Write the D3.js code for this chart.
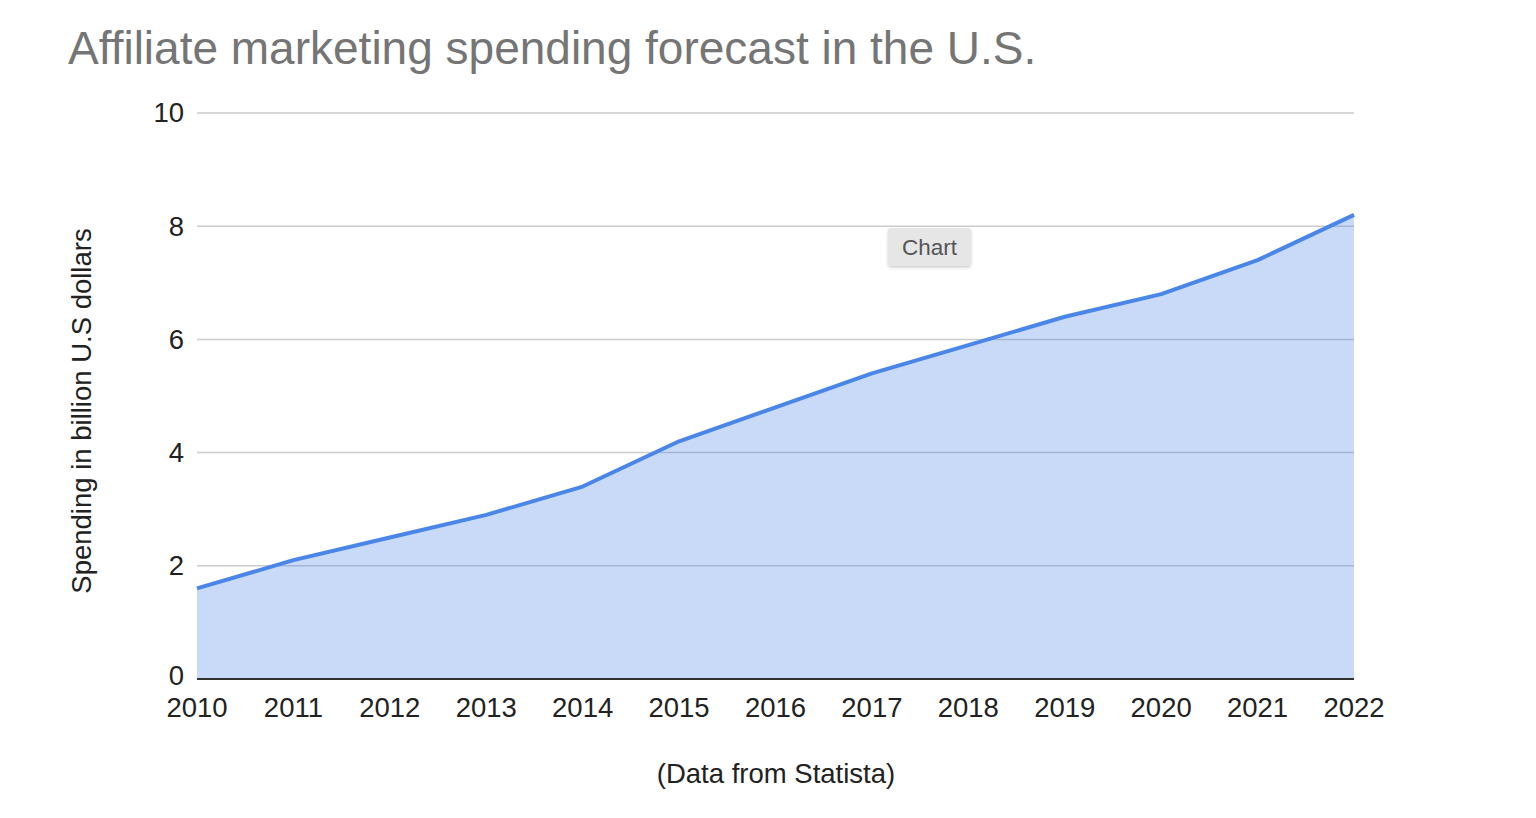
<!DOCTYPE html>
<html><head><meta charset="utf-8">
<script src="https://cdn.jsdelivr.net/npm/d3@7"></script>
<style>
body{margin:0;background:#fff;}
svg{display:block;font-family:"Liberation Sans",Arial,sans-serif;}
</style></head>
<body><svg id="c" width="1536" height="818"></svg>
<script>
const years = [2010,2011,2012,2013,2014,2015,2016,2017,2018,2019,2020,2021,2022];
const spending = [1.6,2.1,2.5,2.9,3.4,4.2,4.8,5.4,5.9,6.4,6.8,7.4,8.2];
const yTicks = [0,2,4,6,8,10];
const title = "Affiliate marketing spending forecast in the U.S.";
const yLabel = "Spending in billion U.S dollars";
const xLabel = "(Data from Statista)";

const svg = d3.select("#c");
const x = d3.scaleLinear().domain([2010,2022]).range([197,1354]);
const y = d3.scaleLinear().domain([0,10]).range([679,113]);

svg.append("text").attr("x",68).attr("y",64).attr("font-size",46).attr("fill","#757575").text(title);

// gridlines
svg.append("g").selectAll("line").data(yTicks.filter(d=>d>0)).join("line")
  .attr("x1",x(2010)).attr("x2",x(2022)).attr("y1",d=>y(d)).attr("y2",d=>y(d))
  .attr("stroke","#cccccc").attr("stroke-width",1.5);

const data = years.map((yr,i)=>({yr,v:spending[i]}));
svg.append("path").datum(data)
  .attr("d",d3.area().x(d=>x(d.yr)).y0(y(0)).y1(d=>y(d.v)))
  .attr("fill","#4a86e8").attr("fill-opacity",0.3);
svg.append("path").datum(data)
  .attr("d",d3.line().x(d=>x(d.yr)).y(d=>y(d.v)))
  .attr("fill","none").attr("stroke","#4a86e8").attr("stroke-width",4).attr("stroke-linejoin","round");

// baseline
svg.append("line").attr("x1",x(2010)).attr("x2",x(2022)).attr("y1",y(0)).attr("y2",y(0))
  .attr("stroke","#333").attr("stroke-width",2);

// y tick labels
svg.append("g").selectAll("text").data(yTicks).join("text")
  .attr("x",184).attr("y",d=>y(d) - (d===0?3:0)).attr("dy","0.34em").attr("text-anchor","end")
  .attr("font-size",27.5).attr("fill","#222").text(d=>d);

// x tick labels
svg.append("g").selectAll("text").data(years).join("text")
  .attr("x",d=>x(d)).attr("y",717).attr("text-anchor","middle")
  .attr("font-size",27.5).attr("fill","#222").text(d=>d);

svg.append("text").attr("transform","translate(91,411) rotate(-90)").attr("text-anchor","middle")
  .attr("font-size",27.5).attr("fill","#222").text(yLabel);
svg.append("text").attr("x",776).attr("y",783).attr("text-anchor","middle")
  .attr("font-size",27.5).attr("fill","#222").text(xLabel);

// "Chart" tooltip badge
const defs = svg.append("defs");
const f = defs.append("filter").attr("id","sh").attr("x","-20%").attr("y","-20%").attr("width","140%").attr("height","160%");
f.append("feDropShadow").attr("dx",0).attr("dy",1.5).attr("stdDeviation",1.5).attr("flood-color","#000").attr("flood-opacity",0.2);
svg.append("rect").attr("x",888).attr("y",228).attr("width",83).attr("height",38).attr("rx",3)
  .attr("fill","#e6e6e6").attr("filter","url(#sh)");
svg.append("text").attr("x",929.5).attr("y",255).attr("text-anchor","middle")
  .attr("font-size",22.5).attr("fill","#555").text("Chart");
</script></body></html>
